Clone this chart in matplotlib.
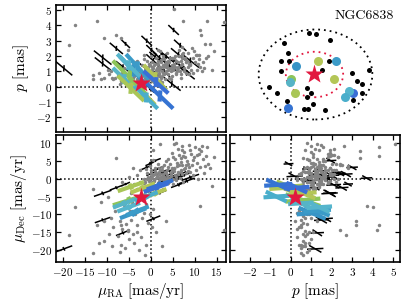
import numpy as np
import matplotlib
matplotlib.use('Agg')
import matplotlib.pyplot as plt
from matplotlib.patches import Ellipse
from matplotlib.ticker import MultipleLocator

# Field stars (grey): proper motions [mas/yr] and parallax [mas]
field_pmra = [0.5, 1.2, 2.0, 2.8, 3.5, 4.1, 1.8, 0.2, -0.5, -1.2, 2.4, 3.0, 4.6, 5.2, 5.8, 6.3, 6.9, 1.0,
              0.0, -0.8, -2.0, -1.5, 1.5, 2.2, 3.3, 0.8, -0.3, 3.8, 4.4, 5.5, 2.6, 1.3, 0.4, -1.0, 3.1, 4.9,
              6.0, 7.2, 7.8, 2.9, 1.7, 0.9, -0.2, 3.6, 4.0, 2.1, 5.0, 6.6, 1.1, 0.3, -0.7, -1.8, 2.5, 4.3,
              3.4, 1.6, 0.6, -2.5, -3.2, -3.8, -4.5, 5.7, 7.0, 8.4, 1.9, 2.3, 3.9, 0.1, -0.9, 4.7,
              5.5, 6.5, 7.5, 8.2, 9.0, 9.8, 10.5, 11.0, 8.8, 10.2, 11.8, 12.4, 7.0, 6.2, 4.8, 5.8, 8.6,
              12.0, 13.0, 9.5, 10.8, 7.4, 8.0, 9.3, 6.8, 2.1, 0.5, 12.8, 11.5, 10.6,
              -1.0, -2.5, -3.5, -4.5, -5.5, -6.5, -4.0, -5.0, -6.8, -7.5, -3.0, -2.0, -1.5, 0.5, -0.5,
              -8.5, -9.5, -10.5, -11.8, -13.0, -7.0, -5.8, -3.8, -2.2, 1.2, 2.5, -8.0, -6.0, -4.2, -9.0,
              3.5, -1.2,
              11.3, 16.6, -17.2, -12.1, -18.6, -10.5, -7.8, -5.1, -6.7, 5.2, 7.4, 13.5, 14.3, 10.9, 13.9,
              -13.1, -11.2, -9.7, -7.0, -4.0, -2.5, -3.2, -5.0, -6.5,
              0.7, 1.4, 2.7, 3.2, 4.5, 5.1, 1.9, 0.0, -0.4, 2.2, 3.7, 4.8, 6.1, 5.4, 2.9, 1.6, 0.9, -0.1,
              3.3, 4.2, 6.8, 7.5, 8.0, 5.9, 3.0, 2.0, 1.2, 0.4, -1.5, 2.5,
              6.9, 7.8, 9.2, 10.0, 8.4, 11.2, 9.6, 6.4, 5.0, 7.1, 12.6, 4.0, 8.9, 11.6,
              -2.8, -0.2, -4.8, -6.2, -3.2, -1.0, -5.2, 0.3, -8.8, -2.6]
field_pmdec = [1.0, 0.2, -0.5, 0.8, 1.5, 0.3, 2.0, -1.0, 0.5, -0.8, -1.8, -1.0, 1.1, 2.2, 0.5, 1.8, 2.6, 3.0,
               2.4, 1.5, -2.2, 0.0, -2.6, 1.2, -0.2, -0.3, -1.8, 2.5, -0.6, 1.0, 3.3, 1.7, 0.1, 2.8, 0.4, 2.9,
               3.5, 4.0, 3.0, -2.9, -1.2, 2.2, 3.5, 1.0, 3.2, 0.0, -1.5, 0.2, -3.8, -2.8, -3.5, -4.5, 2.6, 4.2,
               5.0, 4.2, 5.2, -1.0, -3.0, -1.5, -4.0, -0.4, 1.2, 2.2, 1.4, 0.6, -1.2, 1.6, -0.2, 1.7,
               5.5, 6.8, 7.5, 5.0, 8.2, 6.0, 4.5, 7.0, 3.2, 2.4, 5.5, 3.5, 9.2, 8.5, 7.2, 10.0, 9.6,
               1.5, 4.2, 1.0, 0.0, -0.8, 1.5, 4.0, 5.8, 9.7, 8.0, 9.0, 7.8, 6.8,
               -7.0, -8.5, -10.0, -11.5, -12.8, -14.0, -15.5, -17.0, -18.5, -16.0, -13.0, -11.0, -9.5, -8.5,
               -12.5, -13.5, -15.5, -17.5, -18.0, -21.0, -20.5, -19.5, -18.0, -16.5, -15.0, -19.0, -9.0,
               -7.5, -6.5, -11.0, -12.0, -21.5,
               -7.6, -14.5, -7.8, -13.0, -15.9, -12.0, 5.7, -14.5, -13.0, 9.7, 6.5, 3.0, 6.0, 8.5, -2.0,
               -3.0, -6.5, -5.0, -11.8, 3.0, 2.6, 1.1, 0.5, -1.0,
               -0.6, 0.8, -0.2, 1.9, 0.9, 0.0, -0.9, 0.6, -0.5, 2.4, 0.2, 2.5, 1.3, 3.1, 1.2, 0.4, 1.3, -0.2,
               -1.6, -0.1, 2.0, 2.8, 3.8, 4.5, 3.8, 3.0, -1.8, -1.5, -1.2, 0.3,
               4.8, 6.1, 7.0, 8.8, 4.2, 3.2, 5.2, 3.9, 6.2, 8.0, 6.4, 5.5, 2.0, 9.2,
               -6.0, -10.0, -9.0, -10.5, -15.0, -18.5, -14.8, -13.5, -19.0, -20.0]
field_plx = [1.2, 0.9, 1.1, 1.4, 1.0, 1.6, 0.7, 0.8, 1.3, 1.0, 0.6, 1.8, 1.2, 1.5, 0.9, 1.3, 1.7, 1.5,
             2.0, 1.7, 1.4, 2.1, 1.2, 0.4, 0.5, 0.3, 0.5, 2.2, 1.9, 2.0, 1.0, 1.9, 1.6, 0.9, 0.8, 0.7,
             1.1, 1.5, 1.9, 0.9, 1.5, 0.6, 1.4, 1.3, 1.7, 2.3, 1.4, 1.0, 0.7, 1.1, 0.4, 0.8, 1.8, 1.2,
             1.6, 2.4, 0.9, 0.6, 1.2, 1.6, 1.0, 1.7, 2.1, 1.3, 1.3, 1.6, 1.1, 0.9, 0.6, 0.5,
             1.3, 2.0, 1.0, 1.7, 1.4, 2.3, 1.1, 1.8, 0.8, 2.1, 1.6, 2.8, 2.6, 1.2, 1.9, 0.8, 1.5,
             1.2, 2.0, 1.9, 1.5, 2.2, 0.9, 2.5, 0.6, 1.3, 0.7, 4.3, 3.4, 2.1,
             0.6, 0.4, 0.9, 0.5, 0.8, 0.3, 0.6, 1.0, 0.4, 0.7, 0.5, 0.7, 0.3, 0.9, 0.6,
             0.5, 0.8, 0.6, 0.9, 0.5, 0.8, 0.5, 0.7, 0.3, 1.1, 0.7, 0.6, 1.2, 0.8, 1.0,
             1.3, 0.6,
             3.7, 4.2, 4.0, 4.3, 2.7, 3.2, 3.4, 2.4, 3.2, 5.1, 4.3, 2.8, 2.3, 2.1, 1.1,
             0.75, 0.5, 1.1, 0.2, 1.4, 0.9, 1.7, 1.2, 0.9,
             1.4, 1.1, 1.3, 0.9, 1.0, 1.2, 0.8, 1.0, 1.5, 1.2, 1.5, 1.4, 1.6, 1.9, 2.0, 1.7, 0.5, 0.7,
             1.5, 0.6, 0.8, 1.2, 1.6, 1.0, 1.4, 0.9, 1.0, 1.3, 1.8, 0.3,
             1.4, 1.8, 1.1, 1.6, 2.2, 1.3, 0.9, 2.4, 1.1, 1.9, 1.9, 0.8, 1.5, 1.0,
             0.5, 0.8, 0.4, 0.6, 0.9, 0.5, 0.7, 0.4, 0.6, 0.9]

# Member stars (black crosses): astrometry and uncertainties
mem_pmra = [-19.7, -10.9, -6.3, 0.6, -10.9, -7.8, -5.7, -0.9, 1.0, 4.8, 6.7, 9.0, 5.2, 6.3, -0.2, 3.5, 2.0,
            0.2, 7.5, 3.0, 4.2, 2.4, 5.8, -1.2, 8.2, 1.5]
mem_pmdec = [-19.7, -11.6, -15.2, -11.2, -4.1, -2.5, -1.5, 3.2, 5.1, 0.7, 1.3, 0.4, 0.2, -1.7, 4.2, 0.9, -4.0,
             1.5, 1.0, -0.5, 2.2, 1.8, 0.0, -2.5, -0.6, 2.8]
mem_plx = [1.2, 1.5, 1.3, 1.7, 1.9, 2.5, 2.8, 3.0, 1.95, 0.2, 2.7, 1.7, 3.7, 2.1, -0.1, 2.0, 1.9,
           2.4, 1.2, 1.0, 1.4, 2.2, 1.6, 1.2, 0.9, 0.8]
mem_sig_pmra = [1.9, 1.8, 1.6, 1.6, 2.0, 1.5, 1.0, 1.2, 1.3, 2.0, 1.4, 2.0, 1.2, 1.7, 1.0, 1.8, 1.5,
                1.2, 1.6, 1.4, 1.6, 1.2, 1.5, 1.3, 1.8, 1.1]
mem_sig_pmdec = [1.0, 0.9, 0.9, 0.9, 1.0, 0.8, 0.6, 0.7, 0.7, 1.0, 0.8, 1.0, 0.7, 0.9, 0.6, 0.9, 0.8,
                 0.7, 0.8, 0.8, 0.8, 0.7, 0.8, 0.7, 0.9, 0.6]
mem_sig_plx = [0.5, 0.45, 0.4, 0.45, 0.5, 0.4, 0.3, 0.35, 0.35, 0.5, 0.4, 0.5, 0.35, 0.45, 0.3, 0.45, 0.4,
               0.35, 0.4, 0.4, 0.4, 0.35, 0.4, 0.35, 0.45, 0.3]
mem_x = [-0.5, 0.13, 1.57, -3.07, -2.6, -3.37, -2.57, 1.43, -3.33, 0.7, 3.77, 5.37, 4.27, 4.73, -4.5, -3.73,
         -0.7, -0.37, -0.73, -2.73, -0.17, -1.0, -0.6, 1.07, 4.73, 3.83]
mem_y = [4.07, 4.0, 3.4, 3.13, 2.07, 1.3, 1.3, 1.3, 0.3, 0.4, 0.07, 0.4, -0.7, -1.0, -1.33, -1.93,
         -1.4, -1.93, -2.27, -2.7, -3.0, -3.5, -3.5, -3.6, -1.93, -2.6]

# Highlighted stars (coloured)
sel_pmra = [-4.0, -1.8, -3.0, -4.8, -6.0, 1.0, -4.5, 2.1, 1.2, -5.0, -1.0]
sel_pmdec = [-9.7, -2.6, -9.0, -6.0, -6.9, -4.1, -2.2, -1.7, -2.5, -8.0, -5.0]
sel_plx = [1.05, -0.35, 1.3, 0.6, 0.5, 0.6, -0.1, -0.6, 0.3, 1.4, -0.7]
sel_sig_pmra = [3.0, 2.8, 2.6, 3.8, 2.6, 2.6, 3.0, 3.0, 2.8, 2.6, 2.6]
sel_sig_pmdec = [1.6, 1.5, 1.4, 1.7, 1.4, 1.4, 1.5, 1.5, 1.4, 1.4, 1.4]
sel_sig_plx = [1.0, 0.9, 0.9, 1.2, 0.8, 0.9, 0.9, 0.9, 0.8, 0.8, 0.8]
sel_x = [-1.87, 0.37, 2.1, -2.33, -2.4, 1.93, -1.9, -2.63, 3.83, 3.43, 3.0]
sel_y = [0.77, 1.3, 1.3, -0.53, -0.83, -0.5, -1.9, -3.37, -1.87, -1.67, -2.33]
sel_colors = ['#3894c6', '#b4c657', '#3b9bc8', '#8dc45a', '#56b4c6', '#b4c657', '#a9c657',
              '#3573d2', '#3a6fd6', '#55b5cc', '#4aaecb']

# Cluster
cl_name = 'NGC6838'
cl_pmra, cl_pmdec, cl_plx = -2.25, -5.1, 0.24
r_outer = (0.1, -0.05, 11.3, 9.0)   # x0, y0, width, height
r_inner = (0.0, -0.05, 5.7, 4.55)

# Correlations between astrometric parameters
rho_ra_plx = -0.9
rho_ra_dec = 0.8
rho_plx_dec = -0.5


def draw_cross(ax, x, y, sx, sy, rho, **kwargs):
    """Draws the principal axes of the 1-sigma error ellipse"""
    cov = np.array([[sx ** 2, rho * sx * sy], [rho * sx * sy, sy ** 2]])
    vals, vecs = np.linalg.eigh(cov)
    for v, vec in zip(vals, vecs.T):
        d = np.sqrt(v) * vec
        ax.plot([x - d[0], x + d[0]], [y - d[1], y + d[1]], solid_capstyle='butt', **kwargs)


plt.rcParams.update({
    'font.family': 'serif',
    'font.serif': ['cmr10'],
    'mathtext.fontset': 'cm',
    'axes.formatter.use_mathtext': True,
    'font.size': 8,
    'axes.linewidth': 1.2,
    'xtick.direction': 'in',
    'ytick.direction': 'in',
    'xtick.top': True,
    'ytick.right': True,
    'xtick.major.size': 3.5,
    'ytick.major.size': 3.5,
    'xtick.major.width': 0.9,
    'ytick.major.width': 0.9,
    'xtick.major.pad': 3,
    'ytick.major.pad': 3,
})

fig = plt.figure(figsize=(4.07, 3.05), dpi=100)
w, h = 170 / 407, 127 / 305
ax0 = fig.add_axes([56 / 407, 1 - 132 / 305, w, h])   # pmra vs plx
ax1 = fig.add_axes([230 / 407, 1 - 132 / 305, w, h])  # sky
ax2 = fig.add_axes([56 / 407, 1 - 262 / 305, w, h])   # pmra vs pmdec
ax3 = fig.add_axes([230 / 407, 1 - 262 / 305, w, h])  # plx vs pmdec

grey_kw = dict(ls='none', marker='o', ms=2.5, color='#838383', mec='none')
star_kw = dict(marker='*', ms=14, color='#e2183f', mec='none', ls='none', zorder=10)
dot_kw = dict(color='k', ls=':', lw=1.1, zorder=1)

panels = [
    (ax0, field_pmra, field_plx, mem_pmra, mem_plx, mem_sig_pmra, mem_sig_plx, sel_pmra, sel_plx,
     sel_sig_pmra, sel_sig_plx, rho_ra_plx, cl_pmra, cl_plx),
    (ax2, field_pmra, field_pmdec, mem_pmra, mem_pmdec, mem_sig_pmra, mem_sig_pmdec, sel_pmra, sel_pmdec,
     sel_sig_pmra, sel_sig_pmdec, rho_ra_dec, cl_pmra, cl_pmdec),
    (ax3, field_plx, field_pmdec, mem_plx, mem_pmdec, mem_sig_plx, mem_sig_pmdec, sel_plx, sel_pmdec,
     sel_sig_plx, sel_sig_pmdec, rho_plx_dec, cl_plx, cl_pmdec),
]
for ax, fx, fy, mx, my, msx, msy, sx, sy, ssx, ssy, rho, cx, cy in panels:
    ax.axhline(0, **dot_kw)
    ax.axvline(0, **dot_kw)
    for i in range(len(mx)):
        draw_cross(ax, mx[i], my[i], msx[i], msy[i], rho, color='k', lw=1.1, zorder=2)
    ax.plot(fx, fy, zorder=3, **grey_kw)
    for i in range(len(sx)):
        draw_cross(ax, sx[i], sy[i], ssx[i], ssy[i], rho, color=sel_colors[i], lw=3.0, zorder=4)
    ax.plot(cx, cy, **star_kw)

# Axis limits and ticks
ax0.set_xlim(-21.5, 17.1)
ax0.set_ylim(-2.95, 5.33)
ax2.set_xlim(-21.5, 17.1)
ax2.set_ylim(-23.4, 12.3)
ax3.set_xlim(-2.95, 5.33)
ax3.set_ylim(-23.4, 12.3)
ax0.xaxis.set_major_locator(MultipleLocator(5))
ax0.yaxis.set_major_locator(MultipleLocator(1))
ax2.xaxis.set_major_locator(MultipleLocator(5))
ax2.yaxis.set_major_locator(MultipleLocator(5))
ax3.xaxis.set_major_locator(MultipleLocator(1))
ax3.yaxis.set_major_locator(MultipleLocator(5))
ax0.tick_params(labelbottom=False)
ax3.tick_params(labelleft=False)

ax0.set_ylabel(r'$p\ [\mathrm{mas}]$', fontsize=11, labelpad=4)
ax2.set_ylabel(r'$\mu_{\mathrm{Dec}}\ [\mathrm{mas/yr}]$', fontsize=11, labelpad=1)
ax2.set_xlabel(r'$\mu_{\mathrm{RA}}\ [\mathrm{mas/yr}]$', fontsize=11, labelpad=2)
ax3.set_xlabel(r'$p\ [\mathrm{mas}]$', fontsize=11, labelpad=2)

# Sky positions
ax1.set_xlim(-8.4, 8.5)
ax1.set_ylim(-5.8, 6.9)
ax1.axis('off')
ax1.add_patch(Ellipse(r_outer[:2], r_outer[2], r_outer[3], fill=False, ls=(0, (1, 2.2)), lw=1.3, color='k'))
ax1.add_patch(Ellipse(r_inner[:2], r_inner[2], r_inner[3], fill=False, ls=(0, (1, 2.2)), lw=1.3,
                      color='#e2183f'))
ax1.plot(mem_x, mem_y, ls='none', marker='o', ms=3.6, color='k', mec='none')
for i in range(len(sel_x)):
    ax1.plot(sel_x[i], sel_y[i], ls='none', marker='o', ms=6.5, color=sel_colors[i], mec='none')
ax1.plot(0, 0, **star_kw)
ax1.text(0.965, 0.915, cl_name, transform=ax1.transAxes, ha='right', va='center', fontsize=10)

plt.savefig('out.png', dpi=100)
